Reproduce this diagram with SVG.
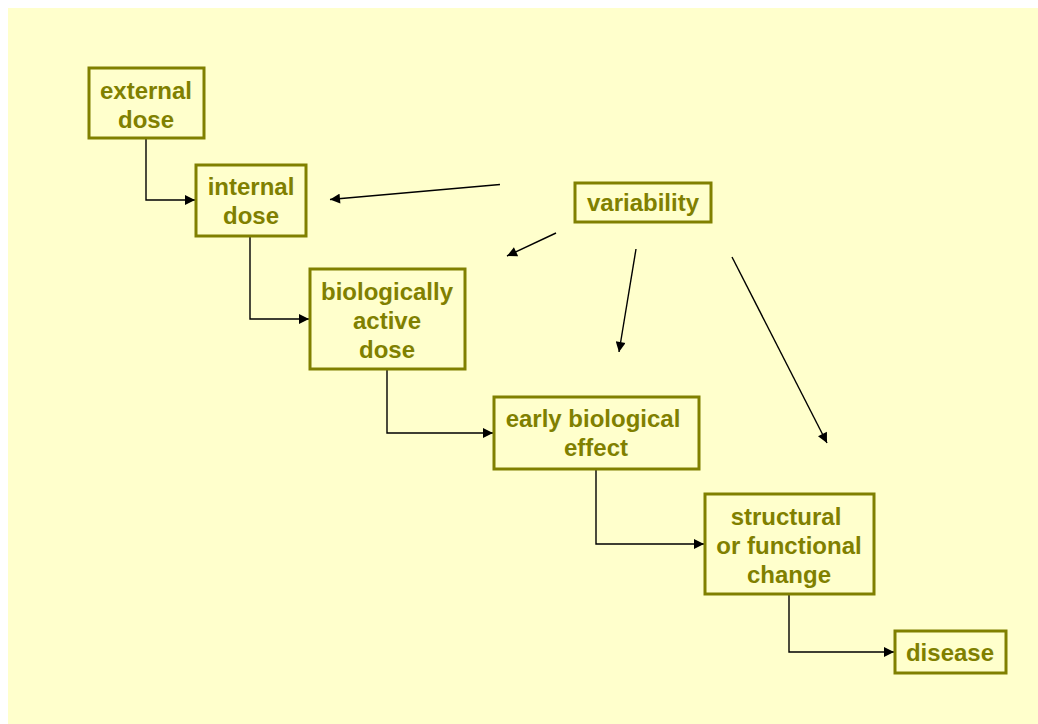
<svg xmlns="http://www.w3.org/2000/svg" width="1038" height="724" viewBox="0 0 1038 724">
<defs>
<marker id="ah" viewBox="0 0 10 10" refX="10" refY="5" markerWidth="12" markerHeight="10" markerUnits="userSpaceOnUse" orient="auto">
<path d="M0,0 L10,5 L0,10 Z" fill="#000"/>
</marker>
<style>
.box{fill:none;stroke:#808000;stroke-width:3}
.t{font-family:"Liberation Sans",Arial,sans-serif;font-weight:bold;font-size:24px;fill:#808000;text-anchor:middle}
.c{fill:none;stroke:#000;stroke-width:1.4;marker-end:url(#ah)}
</style>
</defs>
<rect width="1038" height="724" fill="#ffffff"/>
<rect x="8" y="8" width="1030" height="716" fill="#ffffcc"/>
<g id="connectors">
<path class="c" d="M146,139 V200 H195"/>
<path class="c" d="M250,236 V319 H309"/>
<path class="c" d="M387,369 V433 H493"/>
<path class="c" d="M596,469 V544 H704"/>
<path class="c" d="M789,594 V652 H894"/>
<path class="c" d="M500,184.5 L330,199.5"/>
<path class="c" d="M556,233 L507,256"/>
<path class="c" d="M636,249 L619,352"/>
<path class="c" d="M732,257 L827,443"/>
</g>
<g id="external-dose">
<rect class="box" x="89" y="68" width="115" height="70"/>
<text class="t" x="146" y="99">external</text>
<text class="t" x="146" y="128">dose</text>
</g>
<g id="internal-dose">
<rect class="box" x="196" y="165" width="110" height="71"/>
<text class="t" x="251" y="195">internal</text>
<text class="t" x="251" y="224">dose</text>
</g>
<g id="variability">
<rect class="box" x="575" y="183" width="136" height="39"/>
<text class="t" x="643" y="211">variability</text>
</g>
<g id="biologically-active-dose">
<rect class="box" x="310" y="269" width="155" height="100"/>
<text class="t" x="387" y="300">biologically</text>
<text class="t" x="387" y="329">active</text>
<text class="t" x="387" y="358">dose</text>
</g>
<g id="early-biological-effect">
<rect class="box" x="494" y="397" width="205" height="72"/>
<text class="t" x="593" y="427">early biological</text>
<text class="t" x="596" y="456">effect</text>
</g>
<g id="structural-change">
<rect class="box" x="705" y="494" width="169" height="100"/>
<text class="t" x="786" y="525">structural</text>
<text class="t" x="789" y="554">or functional</text>
<text class="t" x="789" y="583">change</text>
</g>
<g id="disease">
<rect class="box" x="895" y="631" width="111" height="42"/>
<text class="t" x="950" y="661">disease</text>
</g>
</svg>
